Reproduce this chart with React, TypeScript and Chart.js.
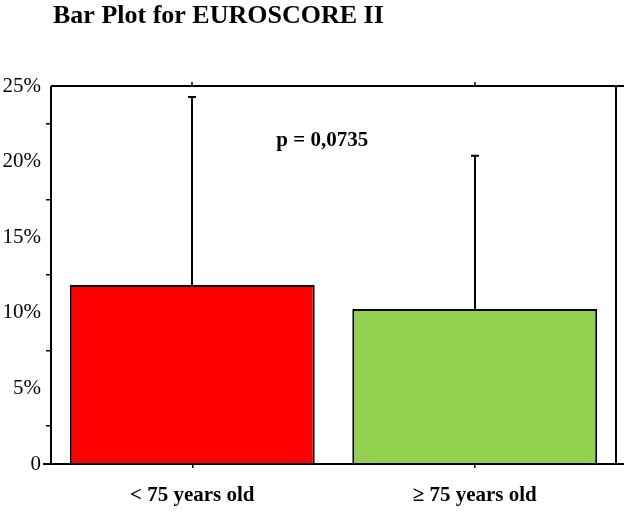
import React, { useEffect, useRef } from "react";
import { Chart, registerables } from "chart.js";

Chart.register(...registerables);

const categories = ["< 75 years old", "≥ 75 years old"];
const meanValues = [11.84, 10.25];
const errorTops = [24.27, 20.39];
const barColors = ["#FF0000", "#92D050"];
const yMin = 0;
const yMax = 25;
const yStep = 2.5;
const titleText = "Bar Plot for EUROSCORE II";
const pValueText = "p = 0,0735";
const pValueAt = [0.46, 21.4];

const FONT = "'Liberation Serif', 'Times New Roman', serif";

const decorPlugin = {
  id: "decor",
  afterDatasetsDraw(chart: any) {
    const { ctx, scales } = chart;
    const x = scales.x;
    const y = scales.y;
    ctx.save();
    ctx.strokeStyle = "#000";
    ctx.lineWidth = 2;
    categories.forEach((_, i) => {
      const px = Math.round(x.getPixelForValue(i));
      const top = y.getPixelForValue(errorTops[i]);
      const base = y.getPixelForValue(meanValues[i]);
      ctx.beginPath();
      ctx.moveTo(px, base);
      ctx.lineTo(px, top);
      ctx.moveTo(px - 4, top);
      ctx.lineTo(px + 4, top);
      ctx.stroke();
    });
    ctx.restore();
  },
  afterDraw(chart: any) {
    const { ctx, chartArea, scales } = chart;
    const x = scales.x;
    const y = scales.y;
    const { left, right, top, bottom } = chartArea;
    ctx.save();
    ctx.strokeStyle = "#000";
    ctx.lineWidth = 2;
    ctx.beginPath();
    ctx.moveTo(left, top);
    ctx.lineTo(left, bottom);
    ctx.moveTo(left, top);
    ctx.lineTo(chart.width, top);
    ctx.moveTo(right, top);
    ctx.lineTo(right, bottom);
    ctx.moveTo(left - 8, bottom);
    ctx.lineTo(chart.width, bottom);
    ctx.stroke();
    ctx.lineWidth = 1.5;
    categories.forEach((_, i) => {
      const px = Math.round(x.getPixelForValue(i));
      ctx.beginPath();
      ctx.moveTo(px, top);
      ctx.lineTo(px, top - 4);
      ctx.stroke();
    });
    ctx.fillStyle = "#000";
    ctx.font = `bold 26px ${FONT}`;
    ctx.textAlign = "left";
    ctx.textBaseline = "alphabetic";
    ctx.fillText(titleText, 53, 23);
    ctx.font = `bold 21px ${FONT}`;
    ctx.textAlign = "center";
    ctx.textBaseline = "middle";
    ctx.fillText(pValueText, x.getPixelForValue(pValueAt[0]), y.getPixelForValue(pValueAt[1]));
    ctx.restore();
  },
};

export default function App() {
  const ref = useRef<HTMLCanvasElement | null>(null);
  useEffect(() => {
    document.body.style.margin = "0";
    const canvas = ref.current;
    if (!canvas) return;
    const chart = new Chart(canvas, {
      type: "bar",
      data: {
        labels: categories,
        datasets: [
          {
            data: meanValues,
            backgroundColor: barColors,
            borderColor: "#000",
            borderWidth: 2,
            barPercentage: 0.867,
            categoryPercentage: 1,
          },
        ],
      },
      options: {
        animation: false,
        responsive: false,
        devicePixelRatio: 1,
        layout: { padding: { left: 0, top: 86, right: 8, bottom: 0 } },
        plugins: {
          legend: { display: false },
          title: { display: false },
          tooltip: { enabled: false },
        },
        scales: {
          x: {
            offset: true,
            border: { display: false },
            grid: {
              display: true,
              offset: false,
              drawOnChartArea: false,
              drawTicks: true,
              tickLength: 4,
              color: "#000",
              lineWidth: 1.5,
            },
            ticks: {
              color: "#000",
              font: { family: FONT, size: 21, weight: "bold" },
              padding: 15,
              maxRotation: 0,
              autoSkip: false,
            },
            afterFit(scale: any) {
              scale.height = 52;
            },
          },
          y: {
            min: yMin,
            max: yMax,
            border: { display: false },
            grid: {
              display: true,
              drawOnChartArea: false,
              drawTicks: true,
              tickLength: 5,
              lineWidth: 1.5,
              color: (c: any) =>
                c.tick && Math.abs(c.tick.value % 5) < 1e-6 ? "rgba(0,0,0,0)" : "#000",
            },
            ticks: {
              stepSize: yStep,
              color: "#000",
              padding: 5,
              font: { family: FONT, size: 21 },
              callback: (v: any) => {
                const n = Number(v);
                if (Math.abs(n % 5) > 1e-6) return "";
                return n === 0 ? "0" : `${n}%`;
              },
            },
            afterFit(scale: any) {
              scale.width = 51;
            },
          },
        },
      },
      plugins: [decorPlugin],
    });
    return () => chart.destroy();
  }, []);
  return (
    <div style={{ width: 624, height: 516 }}>
      <canvas ref={ref} width={624} height={516} />
    </div>
  );
}
